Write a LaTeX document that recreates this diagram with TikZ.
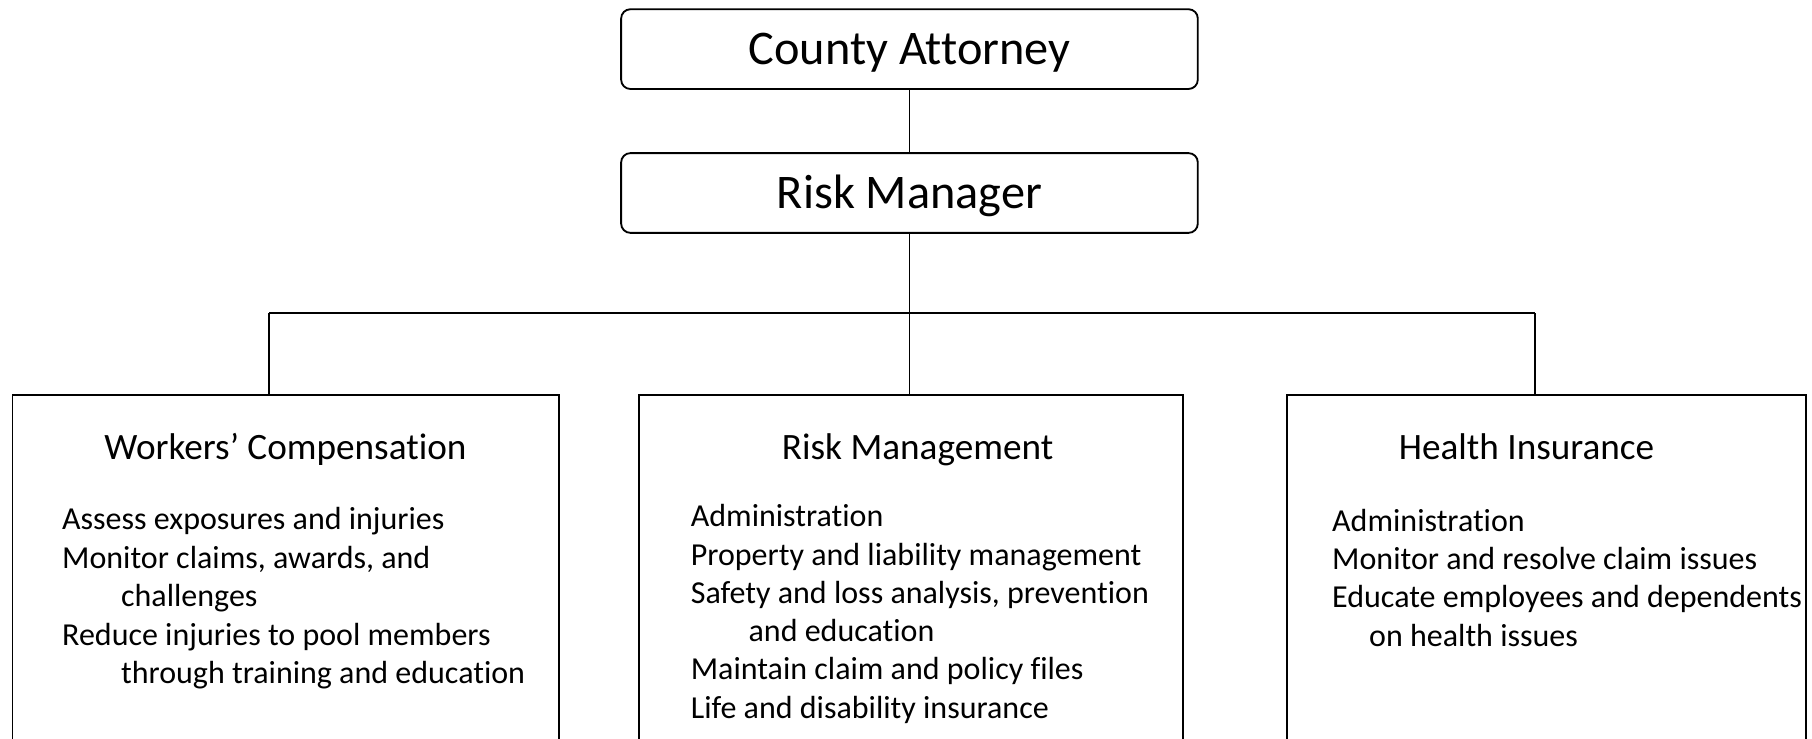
\documentclass[tikz,border=0pt]{standalone}
\usepackage{fontspec}
\setmainfont{Carlito}[Ligatures=NoCommon]
\begin{document}
\begin{tikzpicture}[x=1pt,y=-1pt,
  line width=1.6pt,
  topbox/.style={draw,rounded corners=8pt,minimum width=499pt,minimum height=69pt,inner sep=0pt},
  unitbox/.style={draw,anchor=north west,inner sep=0pt},
  ttl/.style={anchor=base,inner sep=0pt,font=\fontsize{41.8}{41.8}\selectfont},
  sub/.style={anchor=base,inner sep=0pt,font=\fontsize{32.2}{32.2}\selectfont},
  item/.style={anchor=base west,inner sep=0pt,font=\fontsize{27.7}{27.7}\selectfont}]
\useasboundingbox (0,0) rectangle (1568,639);
\clip (0,0) rectangle (1568,639);
\fill[white] (0,0) rectangle (1568,639);
% top boxes
\node[topbox] (ca) at (787,42.5) {};
\node[topbox] (rm) at (787,167) {};
\node[ttl] (catxt) at (787,55.5) {County Attorney};
\node[ttl] (rmtxt) at (787,180.5) {Risk Manager};
% unit boxes (extend below the picture)
\node[unitbox,minimum width=473pt,minimum height=340pt] (wc) at (10,341) {};
\node[unitbox,minimum width=471pt,minimum height=340pt] (rmg) at (552,341) {};
\node[unitbox,minimum width=449pt,minimum height=340pt] (hi) at (1113,341) {};
% connectors
\coordinate (bar) at (787,271);
\coordinate (barL) at (233,271);
\coordinate (barR) at (1328,271);
\draw (ca.south) -- (rm.north);
\draw (rm.south) -- (bar);
\draw (barL) -- (barR);
\draw (barL) -- (barL |- wc.north);
\draw (bar) -- (bar |- rmg.north);
\draw (barR) -- (barR |- hi.north);
% headings
\node[sub] (wch) at (247,398) {Workers’ Compensation};
\node[sub] (rmh) at (794,398) {Risk Management};
\node[sub] (hih) at (1321,398) {Health Insurance};
% workers' compensation items
\node[item] (w1) at (53,458.6) {Assess exposures and injuries};
\node[item] (w2) at (53,491.8) {Monitor claims, awards, and};
\node[item] (w3) at (104,525) {challenges};
\node[item] (w4) at (53,558.2) {Reduce injuries to pool members};
\node[item] (w5) at (104,591.3) {through training and education};
% risk management items
\node[item] (r1) at (597,455.8) {Administration};
\node[item] (r2) at (597,489) {Property and liability management};
\node[item] (r3) at (597,522) {Safety and loss analysis, prevention};
\node[item] (r4) at (647,555.3) {and education};
\node[item] (r5) at (597,588.4) {Maintain claim and policy files};
\node[item] (r6) at (597,621.6) {Life and disability insurance};
% health insurance items
\node[item] (h1) at (1152,460) {Administration};
\node[item] (h2) at (1152,493) {Monitor and resolve claim issues};
\node[item] (h3) at (1152,526) {Educate employees and dependents};
\node[item] (h4) at (1184,559.5) {on health issues};
\end{tikzpicture}
\end{document}
